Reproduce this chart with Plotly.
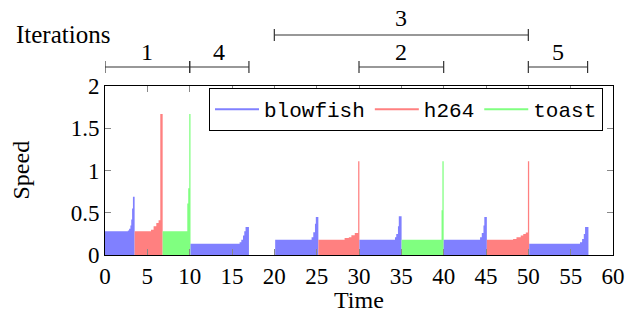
import plotly.graph_objects as go

# ---- data -------------------------------------------------------------
series_names = ["blowfish", "h264", "toast"]
series_colors = ["#8080ff", "#ff8080", "#80ff80"]

# each run: (benchmark, times, speeds) drawn as a step function
blowfish_run1_t = [0, 2.7, 2.85, 3.0, 3.1, 3.2, 3.3, 3.5]
blowfish_run1_s = [0.28, 0.29, 0.31, 0.35, 0.42, 0.55, 0.69, 0.69]
h264_run1_t = [3.5, 5.43, 5.74, 6.06, 6.33, 6.53, 6.81]
h264_run1_s = [0.28, 0.30, 0.34, 0.38, 0.41, 1.67, 1.67]
toast_run1_t = [6.81, 9.72, 9.83, 9.95, 10.1]
toast_run1_s = [0.28, 0.61, 0.79, 1.67, 1.67]
blowfish_run2_t = [10.1, 15.9, 16.1, 16.3, 16.45, 16.6, 17.0]
blowfish_run2_s = [0.133, 0.15, 0.18, 0.23, 0.28, 0.33, 0.33]
blowfish_run3_t = [20.1, 24.4, 24.6, 24.8, 24.9, 25.2]
blowfish_run3_s = [0.18, 0.21, 0.27, 0.37, 0.45, 0.45]
h264_run2_t = [25.2, 28.3, 28.8, 29.1, 29.5, 29.9, 30.05]
h264_run2_s = [0.18, 0.20, 0.21, 0.235, 0.26, 1.11, 1.11]
blowfish_run4_t = [30.05, 34.25, 34.4, 34.6, 34.7, 35.03]
blowfish_run4_s = [0.18, 0.21, 0.25, 0.34, 0.46, 0.46]
toast_run2_t = [35.03, 39.75, 39.85, 40.0]
toast_run2_s = [0.18, 0.53, 1.11, 1.11]
blowfish_run5_t = [40.0, 44.3, 44.5, 44.7, 44.8, 45.1]
blowfish_run5_s = [0.18, 0.21, 0.26, 0.35, 0.45, 0.45]
h264_run3_t = [45.1, 48.2, 48.6, 49.1, 49.4, 49.7, 49.95, 50.1]
h264_run3_s = [0.18, 0.19, 0.21, 0.23, 0.25, 0.265, 1.11, 1.11]
blowfish_run6_t = [50.1, 56.1, 56.35, 56.55, 56.7, 57.1]
blowfish_run6_s = [0.133, 0.15, 0.19, 0.25, 0.33, 0.33]

runs = [
    ("blowfish", blowfish_run1_t, blowfish_run1_s),
    ("h264", h264_run1_t, h264_run1_s),
    ("toast", toast_run1_t, toast_run1_s),
    ("blowfish", blowfish_run2_t, blowfish_run2_s),
    ("blowfish", blowfish_run3_t, blowfish_run3_s),
    ("h264", h264_run2_t, h264_run2_s),
    ("blowfish", blowfish_run4_t, blowfish_run4_s),
    ("toast", toast_run2_t, toast_run2_s),
    ("blowfish", blowfish_run5_t, blowfish_run5_s),
    ("h264", h264_run3_t, h264_run3_s),
    ("blowfish", blowfish_run6_t, blowfish_run6_s),
]

iteration_labels = ["1", "4", "3", "2", "5"]
iteration_start = [0, 10, 20, 30, 50]
iteration_end = [10, 17, 50, 40, 57]
iteration_row = [0, 0, 1, 0, 0]  # 0 = lower row, 1 = upper row

x_ticks = [0, 5, 10, 15, 20, 25, 30, 35, 40, 45, 50, 55, 60]
y_ticks = [0, 0.5, 1, 1.5, 2]
y_tick_text = ["0", "0.5", "1", "1.5", "2"]

# ---- figure -----------------------------------------------------------
SERIF = "Liberation Serif"
MONO = "Liberation Mono"
color_of = dict(zip(series_names, series_colors))

fig = go.Figure()
for name, t, s in runs:
    fig.add_trace(go.Scatter(
        x=t, y=s, mode="lines", line=dict(width=0, shape="hv", color=color_of[name]),
        fill="tozeroy", fillcolor=color_of[name], showlegend=False, hoverinfo="skip"))

for name in series_names:
    fig.add_trace(go.Scatter(
        x=[None], y=[None], mode="lines", name=name,
        line=dict(color=color_of[name], width=2)))

H = 169.0  # plot height in px
W = 508.0  # plot width in px
row_y = {0: 188 / H, 1: 220 / H}
label_y = {0: 203 / H, 1: 237 / H}
tick_half = 6 / H
for lab, a, b, r in zip(iteration_labels, iteration_start, iteration_end, iteration_row):
    yy = row_y[r]
    line = dict(color="#333", width=1.2)
    fig.add_shape(type="line", xref="x", yref="paper", x0=a, x1=b, y0=yy, y1=yy, line=line)
    for xx in (a, b):
        fig.add_shape(type="line", xref="x", yref="paper", x0=xx, x1=xx,
                      y0=yy - tick_half, y1=yy + tick_half, line=line)
    fig.add_annotation(x=(a + b) / 2, y=label_y[r], xref="x", yref="paper", text=lab,
                       showarrow=False, font=dict(family=SERIF, size=24, color="black"),
                       yanchor="middle")

fig.add_annotation(x=(63 - 105) / W, y=221 / H, xref="paper", yref="paper",
                   text="Iterations", showarrow=False, xanchor="center",
                   font=dict(family=SERIF, size=25, color="black"), yanchor="middle")
fig.add_annotation(x=0.5, y=-45 / H, xref="paper", yref="paper", text="Time",
                   showarrow=False, font=dict(family=SERIF, size=24, color="black"),
                   yanchor="middle")
fig.add_annotation(x=(20 - 105) / W, y=0.5, xref="paper", yref="paper", text="Speed",
                   textangle=-90, showarrow=False,
                   font=dict(family=SERIF, size=24, color="black"), xanchor="center")

axis_common = dict(showline=True, linecolor="black", linewidth=1, mirror="ticks",
                   ticks="inside", ticklen=6, tickcolor="#888", showgrid=False,
                   zeroline=False, tickfont=dict(family=SERIF, size=23, color="black"))
fig.update_xaxes(range=[0, 60], tickvals=x_ticks, automargin=False, **axis_common)
fig.update_yaxes(range=[0, 2], tickvals=y_ticks, ticktext=y_tick_text, automargin=False,
                 **axis_common)

fig.update_layout(
    width=627, height=322,
    margin=dict(l=105, r=14, t=86, b=67, autoexpand=False),
    plot_bgcolor="white", paper_bgcolor="white",
    legend=dict(orientation="h", x=(603 - 105) / W, xanchor="right", y=1 - 2 / H,
                yanchor="top", bgcolor="white", bordercolor="black", borderwidth=1,
                font=dict(family=MONO, size=21, color="black"), itemwidth=44),
)

fig.write_html("out.html")
